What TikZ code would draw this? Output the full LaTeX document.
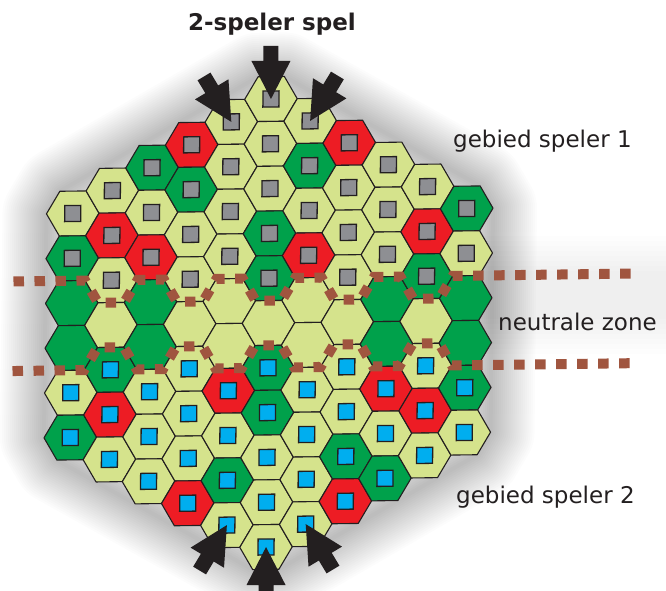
\documentclass[tikz,border=0pt]{standalone}
\usepackage{fontspec}
\setmainfont{DejaVu Sans}
\definecolor{cL}{HTML}{D5E38C}
\definecolor{cG}{HTML}{00A14B}
\definecolor{cR}{HTML}{ED1C24}
\definecolor{sqgray}{HTML}{8E8F93}
\definecolor{sqblue}{HTML}{00AEEF}
\definecolor{edgec}{HTML}{231F20}
\definecolor{dotc}{HTML}{A0553F}
\tikzset{
  hexcell/.style={draw=edgec, line width=1.1pt, line join=round},
  sq-g/.style={fill=sqgray, draw=edgec, line width=1.3pt},
  sq-b/.style={fill=sqblue, draw=edgec, line width=1.3pt},
  sq-n/.style={},
  dotline/.style={draw=dotc, line width=10pt, dash pattern=on 10.5pt off 10.5pt},
  arrowshape/.style={fill=edgec},
  lbl/.style={text=edgec, font=\fontsize{23}{28}\selectfont, inner sep=0pt},
}
\newcommand\blockarrow[2]{%
  \begin{scope}[shift={(#1)}, x=1pt, y=1pt, rotate=#2]
    \fill[arrowshape] (0,0) -- (-38,19.5) -- (-38,7.5) -- (-53,7.5) -- (-53,-7.5) -- (-38,-7.5) -- (-38,-19.5) -- cycle;
  \end{scope}}
\begin{document}
\begin{tikzpicture}[x=1pt,y=-1pt]
\useasboundingbox (0,0) rectangle (666,591);
\fill[white] (0,0) rectangle (666,591);
% faint band behind the neutral zone label
\foreach \i in {0,...,7} {
  \fill[black, opacity=0.007] (478,{236+\i*5}) rectangle (666,{354-\i*5});
}
\begin{scope}[shift={(268.5,323)}, cm={1,0.0127,0.011,1,(0,0)}]
  % soft glow around the board
  \foreach \w in {4,8,...,88} {
    \draw[black, opacity=0.012, line width=\w pt, line join=round]
      (-13.13,-246.4) -- (13.13,-246.4) -- (210.13,-134.4) -- (223.27,-112) -- (223.27,112)
      -- (210.13,134.4) -- (13.13,246.4) -- (-13.13,246.4) -- (-210.13,134.4) -- (-223.27,112)
      -- (-223.27,-112) -- (-210.13,-134.4) -- cycle;
  }
  % cells
  \foreach \c/\cells in {
    -5/{L/g,G/g,G/n,G/n,L/b,G/b},
    -4/{L/g,R/g,L/g,L/n,G/b,R/b,L/b},
    -3/{G/g,L/g,R/g,G/n,G/n,L/b,L/b,L/b},
    -2/{R/g,G/g,L/g,L/g,L/n,L/b,L/b,L/b,R/b},
    -1/{L/g,L/g,L/g,L/g,L/n,L/n,R/b,L/b,G/b,L/b},
    0/{L/g,L/g,L/g,G/g,G/g,L/n,G/b,G/b,L/b,L/b,L/b},
    1/{L/g,G/g,L/g,R/g,L/n,L/n,L/b,L/b,L/b,L/b},
    2/{R/g,L/g,L/g,L/g,L/n,L/b,L/b,G/b,R/b},
    3/{L/g,L/g,L/g,G/n,G/n,R/b,L/b,G/b},
    4/{L/g,R/g,G/g,L/n,L/b,R/b,L/b},
    5/{G/g,L/g,G/n,G/n,G/b,L/b}} {
    \foreach \f/\s [count=\j from 0] in \cells {
      \pgfmathsetmacro\u{39.4*\c}
      \pgfmathsetmacro\v{44.8*(\j-(10-abs(\c))/2)}
      \begin{scope}[shift={(\u,\v)}]
        \coordinate (h\c-\j) at (0,0);
        \draw[hexcell, fill=c\f] (-26.27,0) -- (-13.13,-22.4) -- (13.13,-22.4) -- (26.27,0)
          -- (13.13,22.4) -- (-13.13,22.4) -- cycle;
        \path[sq-\s] (-8,-8) rectangle (8,8);
      \end{scope}
    }
  }
  % borders of the neutral zone
  \draw[dotline] (-255.5,-44.8) -- (-210.13,-44.8) -- (-183.87,-44.8) -- (-170.73,-22.4) -- (-144.47,-22.4)
    -- (-131.33,-44.8) -- (-105.07,-44.8) -- (-91.93,-22.4) -- (-65.67,-22.4) -- (-52.53,-44.8)
    -- (-26.27,-44.8) -- (-13.13,-22.4) -- (13.13,-22.4) -- (26.27,-44.8) -- (52.53,-44.8)
    -- (65.67,-22.4) -- (91.93,-22.4) -- (105.07,-44.8) -- (131.33,-44.8) -- (144.47,-22.4)
    -- (170.73,-22.4) -- (183.87,-44.8) -- (210.13,-44.8) -- (366.5,-44.8);
  \draw[dotline] (-255.5,44.8) -- (-210.13,44.8) -- (-183.87,44.8) -- (-170.73,22.4) -- (-144.47,22.4)
    -- (-131.33,44.8) -- (-105.07,44.8) -- (-91.93,22.4) -- (-65.67,22.4) -- (-52.53,44.8)
    -- (-26.27,44.8) -- (-13.13,22.4) -- (13.13,22.4) -- (26.27,44.8) -- (52.53,44.8)
    -- (65.67,22.4) -- (91.93,22.4) -- (105.07,44.8) -- (131.33,44.8) -- (144.47,22.4)
    -- (170.73,22.4) -- (183.87,44.8) -- (210.13,44.8) -- (366.5,44.8);
\end{scope}
% arrows pointing at the start cells
\blockarrow{h0-0}{-90}
\blockarrow{h-1-0}{-59}
\blockarrow{h1-0}{-121}
\blockarrow{h0-10}{90}
\blockarrow{h-1-9}{59}
\blockarrow{h1-9}{121}
% labels
\node[lbl, font=\fontsize{23}{28}\selectfont\bfseries, anchor=base] (title) at (272,31) {2-speler spel};
\node[lbl, anchor=base west] (p1) at (453,147) {gebied speler 1};
\node[lbl, anchor=base west] (nz) at (498,330) {neutrale zone};
\node[lbl, anchor=base west] (p2) at (456,503) {gebied speler 2};
\end{tikzpicture}
\end{document}
